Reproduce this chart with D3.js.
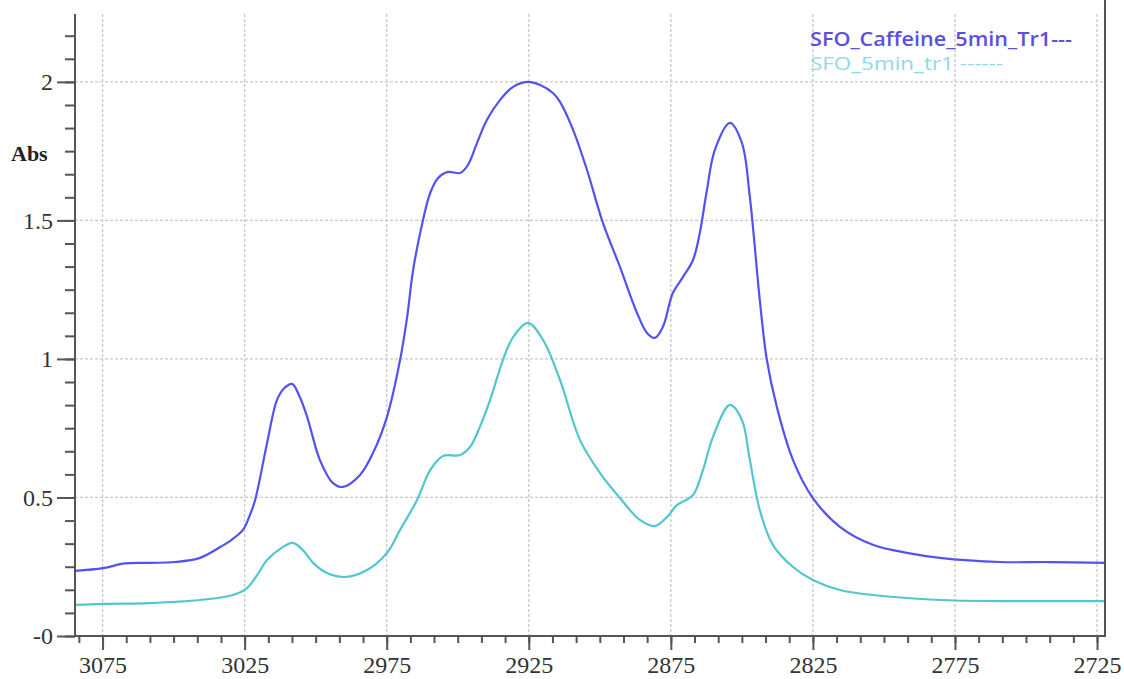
<!DOCTYPE html>
<html>
<head>
<meta charset="utf-8">
<script src="https://cdn.jsdelivr.net/npm/d3@7"></script>
<style>
  html, body { margin: 0; padding: 0; background: #fff; }
  svg { display: block; }
</style>
</head>
<body>
<svg id="chart" width="1124" height="679"></svg>
<script>
// Wavenumber (cm-1) of each sample, spectrum 1: SFO_Caffeine_5min_Tr1
const caffeineWave = [3084.7, 3074.8, 3067.1, 3058.3, 3049.5, 3040.7, 3033.6, 3029.6, 3025.6, 3023.4,
  3021.3, 3017.1, 3013.6, 3011.0, 3008.3, 3005.7, 3003.0, 2998.5, 2993.9, 2990.4,
  2984.4, 2979.8, 2974.9, 2970.3, 2967.8, 2965.7, 2962.2, 2959.7, 2956.9, 2953.4,
  2949.2, 2946.4, 2943.2, 2939.7, 2935.1, 2930.5, 2925.6, 2921.0, 2916.5, 2914.0,
  2909.4, 2904.5, 2898.9, 2892.9, 2886.9, 2883.4, 2880.6, 2877.8, 2874.3, 2870.7,
  2867.2, 2864.8, 2862.3, 2859.5, 2854.2, 2850.0, 2847.2, 2843.7, 2841.2, 2837.7,
  2832.0, 2825.0, 2815.5, 2803.9, 2791.9, 2780.3, 2759.1, 2741.6, 2722.2];
const caffeineAbs = [0.235, 0.245, 0.262, 0.264, 0.267, 0.282, 0.321, 0.347, 0.383, 0.430,
  0.491, 0.697, 0.852, 0.895, 0.910, 0.865, 0.791, 0.635, 0.552, 0.538,
  0.581, 0.661, 0.791, 0.996, 1.152, 1.321, 1.502, 1.599, 1.653, 1.675,
  1.671, 1.700, 1.780, 1.863, 1.935, 1.982, 2.000, 1.989, 1.960, 1.928,
  1.827, 1.682, 1.491, 1.332, 1.166, 1.094, 1.076, 1.116, 1.238, 1.296,
  1.357, 1.455, 1.610, 1.755, 1.852, 1.780, 1.585, 1.213, 0.996, 0.827,
  0.635, 0.498, 0.394, 0.329, 0.300, 0.282, 0.267, 0.267, 0.264];

// Spectrum 2: SFO_5min_tr1
const plainWave = [3084.7, 3074.8, 3058.3, 3040.7, 3029.1, 3024.2, 3020.6, 3017.1, 3012.0, 3008.0,
  3004.5, 3000.9, 2996.0, 2989.7, 2981.9, 2974.9, 2970.3, 2964.3, 2959.7, 2955.2,
  2949.2, 2945.7, 2942.2, 2938.6, 2934.1, 2930.5, 2925.3, 2920.0, 2914.0, 2907.0,
  2899.9, 2892.9, 2885.9, 2880.6, 2876.3, 2872.8, 2867.2, 2863.7, 2860.2, 2854.2,
  2850.0, 2847.2, 2843.7, 2839.1, 2832.0, 2825.0, 2815.5, 2803.9, 2780.3, 2759.1,
  2722.2];
const plainAbs = [0.112, 0.116, 0.119, 0.130, 0.148, 0.173, 0.220, 0.274, 0.318, 0.336,
  0.310, 0.264, 0.227, 0.213, 0.238, 0.300, 0.383, 0.491, 0.599, 0.650,
  0.653, 0.682, 0.755, 0.852, 0.996, 1.079, 1.130, 1.069, 0.924, 0.708,
  0.588, 0.498, 0.419, 0.397, 0.430, 0.473, 0.509, 0.599, 0.718, 0.834,
  0.780, 0.635, 0.455, 0.329, 0.249, 0.202, 0.166, 0.148, 0.130, 0.126,
  0.126];

// Axis ticks and labels
const xTicks = [3075, 3025, 2975, 2925, 2875, 2825, 2775, 2725];
const yTicks = [0, 0.5, 1, 1.5, 2];
const yTickLabels = ["-0", "0.5", "1", "1.5", "2"];
const seriesNames = ["SFO_Caffeine_5min_Tr1---", "SFO_5min_tr1 ------"];

const svg = d3.select("#chart");
const plot = { left: 75, right: 1105, top: 14, bottom: 636 };

const x = d3.scaleLinear().domain([3084.7, 2722.2]).range([plot.left, plot.right]);
const y = d3.scaleLinear().domain([0, 2.245]).range([plot.bottom, plot.top]);

// Dotted grid
const grid = svg.append("g")
  .attr("stroke", "#c8c8c8")
  .attr("stroke-width", 1.3)
  .attr("stroke-dasharray", "3,2");
grid.selectAll("line.v").data(xTicks).join("line")
  .attr("x1", d => x(d)).attr("x2", d => x(d))
  .attr("y1", plot.top).attr("y2", plot.bottom);
grid.selectAll("line.h").data(yTicks.filter(d => d > 0)).join("line")
  .attr("x1", plot.left).attr("x2", plot.right)
  .attr("y1", d => y(d)).attr("y2", d => y(d));

// Spectra
const line = d3.line().curve(d3.curveCatmullRom.alpha(0.5));
function drawSpectrum(wave, abs, color) {
  svg.append("path")
    .datum(wave.map((w, i) => [x(w), y(abs[i])]))
    .attr("fill", "none")
    .attr("stroke", color)
    .attr("stroke-width", 2.2)
    .attr("stroke-linejoin", "round")
    .attr("d", line);
}
drawSpectrum(plainWave, plainAbs, "#52c6cf");
drawSpectrum(caffeineWave, caffeineAbs, "#5252f0");

// Minor tick positions: six steps per major interval
const xMinor = d3.range(0, 44).map(i => 3075 + 50 / 6 - i * 50 / 6).filter(v => v >= 2722.2 && v <= 3084.7);
const yMinor = d3.range(0, 28).map(i => i * 0.5 / 6).filter(v => v <= 2.245);

const axisColor = "#555";
const tickFont = "'Liberation Serif', 'Times New Roman', serif";

// Bottom axis
const xMinorAxis = d3.axisBottom(x).tickValues(xMinor).tickSize(7).tickFormat("");
const xMajorAxis = d3.axisBottom(x).tickValues(xTicks).tickSize(14).tickPadding(6).tickFormat(d3.format("d"));
svg.append("g").attr("transform", `translate(0,${plot.bottom})`).call(xMinorAxis);
svg.append("g").attr("transform", `translate(0,${plot.bottom})`).call(xMajorAxis);

// Left axis
const yMinorAxis = d3.axisLeft(y).tickValues(yMinor).tickSize(10).tickFormat("");
const yMajorAxis = d3.axisLeft(y).tickValues(yTicks).tickSize(18).tickPadding(4)
  .tickFormat((d, i) => yTickLabels[i]);
svg.append("g").attr("transform", `translate(${plot.left},0)`).call(yMinorAxis);
svg.append("g").attr("transform", `translate(${plot.left},0)`).call(yMajorAxis);

svg.selectAll(".tick line").attr("stroke", axisColor).attr("stroke-width", 2);
svg.selectAll(".tick text")
  .attr("fill", "#333")
  .style("font-family", tickFont)
  .style("font-size", "24px");
svg.selectAll(".domain").remove();

// Spines: left axis, bottom axis and right border
const spine = svg.append("g").attr("stroke", axisColor).attr("stroke-width", 2);
spine.append("line").attr("x1", plot.left).attr("x2", plot.left).attr("y1", plot.top).attr("y2", plot.bottom + 1);
spine.append("line").attr("x1", plot.left - 1).attr("x2", plot.right + 1).attr("y1", plot.bottom).attr("y2", plot.bottom);
spine.append("line").attr("x1", plot.right).attr("x2", plot.right).attr("y1", 0).attr("y2", plot.bottom);

// Y axis title
svg.append("text")
  .attr("x", 11).attr("y", 161)
  .attr("fill", "#222")
  .style("font-family", tickFont)
  .style("font-size", "22px")
  .style("font-weight", "bold")
  .text("Abs");

// Legend
const legendColors = ["#5a4fe0", "#90d8ea"];
const legendWidths = [262, 193];
svg.append("g").selectAll("text").data(seriesNames).join("text")
  .attr("x", 810)
  .attr("y", (d, i) => 46 + i * 24)
  .attr("fill", (d, i) => legendColors[i])
  .attr("textLength", (d, i) => legendWidths[i])
  .attr("lengthAdjust", "spacingAndGlyphs")
  .style("font-family", "'Open Sans', 'Liberation Sans', sans-serif")
  .style("font-size", "19px")
  .style("font-weight", (d, i) => i === 0 ? 600 : 400)
  .text(d => d);
</script>
</body>
</html>
